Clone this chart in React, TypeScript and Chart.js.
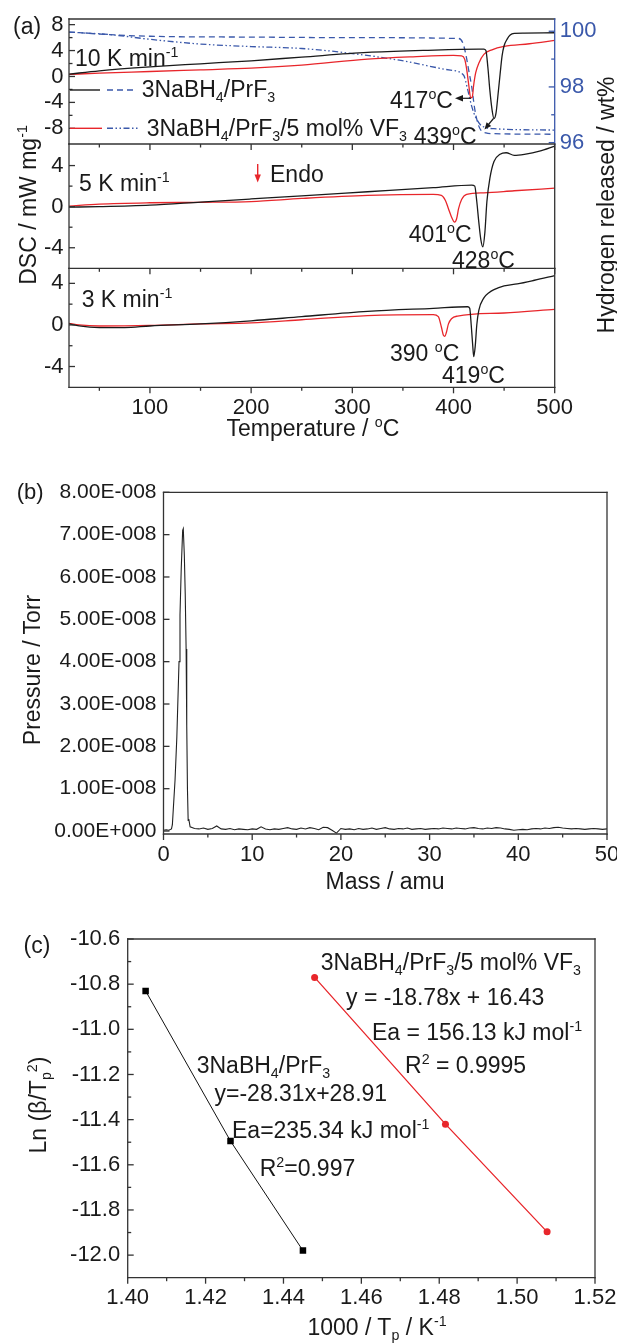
import React, { useEffect, useRef } from "react";
import { Chart, registerables } from "chart.js";
Chart.register(...registerables);

const FONT = "'Liberation Sans', Arial, Helvetica, sans-serif";
const INK = "#1a1a1a";
const AXIS = "#333333";
const RED = "#e8262b";
const BLUE = "#3a58aa";

// ---------------- Panel (a): DSC + hydrogen release ----------------
const tempMajor = [100, 200, 300, 400, 500];
const tempMinor = [50, 150, 250, 350, 450];

// 10 K/min
const t10Black = [20, 50, 100, 150, 200, 250, 315, 370, 425, 430, 432, 434, 436, 438, 440, 442, 444, 446, 448, 450, 453, 456, 460, 470, 500];
const dsc10Black = [0.36, 0.88, 1.49, 1.96, 2.42, 2.99, 3.71, 4.02, 4.22, 4.22, 4.02, 1.34, -2.27, -5.05, -6.49, -5.66, -2.78, 0.31, 3.19, 4.74, 5.77, 6.39, 6.64, 6.7, 6.75];
const t10Red = [20, 50, 100, 150, 200, 250, 315, 360, 400, 408, 411, 413, 415, 417, 418.5, 420, 422, 425, 430, 438, 450, 475, 500];
const dsc10Red = [0.31, 0.52, 0.77, 1.03, 1.29, 1.75, 2.68, 3.04, 3.25, 3.19, 2.68, 1.13, -1.24, -3.3, -3.19, -1.24, 0.62, 2.06, 3.4, 4.12, 4.64, 5.05, 5.56];
const tH2Pure = [20, 60, 100, 200, 300, 405, 409, 412, 415, 418, 421, 424, 427, 432, 440, 500];
const wtPure = [99.97, 99.88, 99.82, 99.79, 99.77, 99.74, 99.6, 99.2, 98.6, 98.0, 97.2, 96.7, 96.45, 96.35, 96.32, 96.3];
const tH2VF3 = [20, 60, 100, 150, 200, 250, 300, 348, 397, 410, 414, 418, 422, 428, 440, 500];
const wtVF3 = [99.97, 99.88, 99.71, 99.54, 99.45, 99.38, 99.2, 98.95, 98.6, 98.42, 97.9, 97.3, 96.9, 96.6, 96.5, 96.45];

// 5 K/min
const t5Black = [20, 50, 100, 150, 200, 250, 315, 380, 418, 421, 423, 425, 427, 429, 431, 433, 436, 440, 446, 452, 460, 470, 485, 500];
const dsc5Black = [-0.05, 0.0, 0.15, 0.45, 0.75, 1.05, 1.45, 1.85, 2.1, 2.0, 0.5, -1.5, -3.2, -3.9, -2.5, 0.5, 2.8, 4.4, 5.1, 5.25, 5.0, 5.1, 5.4, 5.9];
const t5Red = [20, 50, 100, 150, 200, 250, 315, 380, 388, 392, 395, 398, 401, 403, 405, 408, 413, 430, 460, 500];
const dsc5Red = [0.05, 0.25, 0.38, 0.42, 0.5, 0.8, 1.1, 1.2, 1.1, 0.6, -0.2, -1.0, -1.5, -1.2, -0.2, 0.7, 1.2, 1.35, 1.55, 1.8];

// 3 K/min
const t3Black = [20, 30, 50, 75, 100, 150, 200, 250, 315, 380, 414, 416, 417.5, 419, 420, 421.5, 423, 425, 430, 435, 440, 450, 463, 480, 500];
const dsc3Black = [0.1, -0.1, -0.25, -0.25, -0.1, 0.1, 0.4, 0.8, 1.3, 1.6, 1.75, 1.6, 0.0, -2.0, -3.05, -2.0, 0.0, 1.4, 2.6, 3.1, 3.4, 3.75, 3.95, 4.3, 4.75];
const t3Red = [20, 30, 50, 100, 150, 200, 250, 315, 380, 385, 388, 390, 391.5, 393, 395, 398, 404, 450, 500];
const dsc3Red = [0.15, 0.0, -0.1, -0.05, 0.1, 0.2, 0.5, 0.9, 1.0, 0.8, -0.2, -1.0, -1.1, -0.7, 0.1, 0.6, 0.85, 1.15, 1.5];

const dscTicks10 = [-8, -4, 0, 4, 8];
const dscMinor10 = [-6, -2, 2, 6];
const dscTicks = [-4, 0, 4];
const dscMinor = [-2, 2];
const wtTicks = [96, 98, 100];
const wtMinor = [97, 99];

// ---------------- Panel (b): mass spectrum ----------------
const massPeak = [0, 0.3, 0.6, 0.9, 1.0, 1.1, 1.3, 1.5, 1.75, 1.86, 2.0, 2.16, 2.23, 2.35, 2.45, 2.55, 2.62, 2.7, 2.78, 2.85];
const pressPeak = [0.02, 0.03, 0.02, 0.05, 0.15, 0.5, 1.2, 2.2, 4.0, 5.1, 6.2, 7.1, 7.14, 6.5, 5.6, 4.3, 2.5, 1.0, 0.25, 0.28];
const massBase = [3, 3.5, 4, 4.5, 5, 5.5, 6, 6.5, 7, 7.5, 8, 8.5, 9, 9.5, 10, 10.5, 11, 11.5, 12, 12.5, 13, 13.5, 14, 14.5, 15, 15.5, 16, 16.5, 17, 17.5, 18, 18.5, 19, 19.5, 20, 20.5, 21, 21.5, 22, 22.5, 23, 23.5, 24, 24.5, 25, 25.5, 26, 26.5, 27, 27.5, 28, 28.5, 29, 29.5, 30, 30.5, 31, 31.5, 32, 32.5, 33, 33.5, 34, 34.5, 35, 35.5, 36, 36.5, 37, 37.5, 38, 38.5, 39, 39.5, 40, 40.5, 41, 41.5, 42, 42.5, 43, 43.5, 44, 44.5, 45, 45.5, 46, 46.5, 47, 47.5, 48, 48.5, 49, 49.5, 50];
const pressBase = [0.10, 0.06, 0.05, 0.07, 0.04, 0.06, 0.12, 0.05, 0.04, 0.06, 0.03, 0.05, 0.04, 0.03, 0.05, 0.04, 0.10, 0.05, 0.03, 0.05, 0.04, 0.06, 0.08, 0.05, 0.04, 0.07, 0.05, 0.08, 0.06, 0.03, 0.09, 0.08, 0.02, -0.05, 0.06, 0.04, 0.05, 0.03, 0.06, 0.04, 0.05, 0.07, 0.04, 0.06, 0.08, 0.05, 0.04, 0.06, 0.05, 0.07, 0.04, 0.05, 0.06, 0.04, 0.05, 0.06, 0.05, 0.07, 0.06, 0.05, 0.07, 0.06, 0.05, 0.07, 0.08, 0.06, 0.05, 0.07, 0.06, 0.08, 0.07, 0.05, 0.04, 0.02, 0.03, 0.04, 0.03, 0.05, 0.06, 0.05, 0.07, 0.06, 0.08, 0.09, 0.07, 0.06, 0.05, 0.06, 0.05, 0.04, 0.05, 0.06, 0.05, 0.04, 0.05];
const massTicks = [0, 10, 20, 30, 40, 50];
const massMinor = [5, 15, 25, 35, 45];
const pressTicks = [0, 1e-8, 2e-8, 3e-8, 4e-8, 5e-8, 6e-8, 7e-8, 8e-8];
const pressTickLabels = ["0.00E+000", "1.00E-008", "2.00E-008", "3.00E-008", "4.00E-008", "5.00E-008", "6.00E-008", "7.00E-008", "8.00E-008"];

// ---------------- Panel (c): Kissinger plot ----------------
const invTPure = [1.4046, 1.4264, 1.445];
const lnPure = [-10.83, -11.495, -11.98];
const invTVF3 = [1.448, 1.4816, 1.5077];
const lnVF3 = [-10.77, -11.42, -11.897];
const invTTicks = [1.4, 1.42, 1.44, 1.46, 1.48, 1.5, 1.52];
const invTMinor = [1.41, 1.43, 1.45, 1.47, 1.49, 1.51];
const lnTicks = [-12.0, -11.8, -11.6, -11.4, -11.2, -11.0, -10.8, -10.6];
const lnMinor = [-11.9, -11.7, -11.5, -11.3, -11.1, -10.9, -10.7];

// ---------------- helpers ----------------
const pts = (xs: number[], ys: number[], k = 1) => xs.map((x, i) => ({ x, y: ys[i] * k }));

function series(data: any[], color: string, extra: any = {}) {
  return {
    data,
    borderColor: color,
    backgroundColor: color,
    borderWidth: 1.3,
    pointRadius: 0,
    cubicInterpolationMode: "monotone",
    fill: false,
    ...extra,
  };
}

function yAxis(min: number, max: number, ticks: number[], width: number, position: string, opt: any = {}) {
  return {
    type: "linear",
    position,
    min,
    max,
    bounds: "data",
    grid: { display: false, drawTicks: false },
    border: { display: false },
    afterBuildTicks: (s: any) => {
      s.ticks = ticks.map((v) => ({ value: v }));
    },
    ticks: {
      display: opt.show !== false,
      padding: opt.pad ?? 5,
      autoSkip: false,
      font: { family: FONT, size: opt.size ?? 22 },
      color: opt.color ?? INK,
      callback: opt.fmt ?? ((v: number) => String(v)),
    },
    afterFit: (s: any) => {
      s.width = width;
      s.paddingTop = 0;
      s.paddingBottom = 0;
      s.paddingLeft = 0;
      s.paddingRight = 0;
    },
  };
}

function xAxis(min: number, max: number, ticks: number[], height: number, opt: any = {}) {
  return {
    type: "linear",
    position: "bottom",
    min,
    max,
    bounds: "data",
    grid: { display: false, drawTicks: false },
    border: { display: false },
    afterBuildTicks: (s: any) => {
      s.ticks = ticks.map((v) => ({ value: v }));
    },
    ticks: {
      display: opt.show !== false,
      padding: opt.pad ?? 7,
      autoSkip: false,
      maxRotation: 0,
      minRotation: 0,
      font: { family: FONT, size: opt.size ?? 22 },
      color: INK,
      callback: opt.fmt ?? ((v: number) => String(v)),
    },
    afterFit: (s: any) => {
      s.height = height;
      s.paddingTop = 0;
      s.paddingBottom = 0;
      s.paddingLeft = 0;
      s.paddingRight = 0;
    },
  };
}

type TickSpec = { scale: string; side: "left" | "right" | "bottom"; major: number[]; minor: number[]; dir: "in" | "out"; color?: string };

function decor(box: { top?: string; right?: string; bottom?: string; left?: string }, ticks: TickSpec[]) {
  return {
    id: "decor",
    afterDraw(chart: any) {
      const ctx = chart.ctx;
      const a = chart.chartArea;
      ctx.save();
      ctx.lineWidth = 1.3;
      const seg = (x1: number, y1: number, x2: number, y2: number, c: string) => {
        ctx.strokeStyle = c;
        ctx.beginPath();
        ctx.moveTo(x1, y1);
        ctx.lineTo(x2, y2);
        ctx.stroke();
      };
      ticks.forEach((t) => {
        const s = chart.scales[t.scale];
        const col = t.color || AXIS;
        const draw = (v: number, len: number) => {
          const p = s.getPixelForValue(v);
          if (t.side === "bottom") {
            const y0 = a.bottom;
            seg(p, y0, p, t.dir === "out" ? y0 + len : y0 - len, col);
          } else if (t.side === "left") {
            const x0 = a.left;
            seg(x0, p, t.dir === "in" ? x0 + len : x0 - len, p, col);
          } else {
            const x0 = a.right;
            seg(x0, p, t.dir === "in" ? x0 - len : x0 + len, p, col);
          }
        };
        t.major.forEach((v) => draw(v, 6));
        t.minor.forEach((v) => draw(v, 3.5));
      });
      const h = 0.65;
      if (box.top) seg(a.left - h, a.top, a.right + h, a.top, box.top);
      if (box.bottom) seg(a.left - h, a.bottom, a.right + h, a.bottom, box.bottom);
      if (box.left) seg(a.left, a.top - h, a.left, a.bottom + h, box.left);
      if (box.right) seg(a.right, a.top - h, a.right, a.bottom + h, box.right);
      ctx.restore();
    },
  };
}

function makeChart(canvas: HTMLCanvasElement, padTop: number, padRight: number, datasets: any[], scales: any, plugin: any) {
  return new Chart(canvas, {
    type: "line",
    data: { datasets },
    options: {
      responsive: false,
      maintainAspectRatio: false,
      animation: false,
      devicePixelRatio: 1,
      events: [],
      layout: { padding: { top: padTop, right: padRight, left: 0, bottom: 0 } },
      plugins: { legend: { display: false }, tooltip: { enabled: false }, title: { display: false } },
      scales,
      elements: { point: { radius: 0 }, line: { borderWidth: 1.3 } },
    } as any,
    plugins: [plugin],
  } as any);
}

// ---------------- text helpers ----------------
const Sup = ({ children }: any) => (
  <span style={{ fontSize: "0.62em", position: "relative", top: "-0.62em" }}>{children}</span>
);
const Sub = ({ children }: any) => (
  <span style={{ fontSize: "0.62em", position: "relative", top: "0.38em" }}>{children}</span>
);
const Txt = ({ x, y, size = 23, color = INK, center = false, children }: any) => (
  <div
    style={{
      position: "absolute",
      left: x,
      top: y,
      transform: center ? "translate(-50%,-50%)" : "translateY(-50%)",
      fontFamily: FONT,
      fontSize: size,
      lineHeight: 1,
      whiteSpace: "nowrap",
      color,
    }}
  >
    {children}
  </div>
);
const VTxt = ({ x, y, size = 23, color = INK, children }: any) => (
  <div
    style={{
      position: "absolute",
      left: x,
      top: y,
      transform: "translate(-50%,-50%) rotate(-90deg)",
      fontFamily: FONT,
      fontSize: size,
      lineHeight: 1,
      whiteSpace: "nowrap",
      color,
    }}
  >
    {children}
  </div>
);
const Deg = () => <Sup>o</Sup>;

export default function App() {
  const rA1 = useRef<HTMLCanvasElement>(null);
  const rA2 = useRef<HTMLCanvasElement>(null);
  const rA3 = useRef<HTMLCanvasElement>(null);
  const rB = useRef<HTMLCanvasElement>(null);
  const rC = useRef<HTMLCanvasElement>(null);

  useEffect(() => {
    Chart.defaults.font.family = FONT;
    Chart.defaults.color = INK;
    const charts: any[] = [];
    const L = 69;
    const R = 554.7;

    // --- (a) top: 10 K/min ---
    charts.push(
      makeChart(
        rA1.current!,
        19,
        0,
        [
          series(pts(t10Black, dsc10Black), INK),
          series(pts(t10Red, dsc10Red), RED),
          series(pts(tH2Pure, wtPure), BLUE, { yAxisID: "y2", borderDash: [6, 4] }),
          series(pts(tH2VF3, wtVF3), BLUE, { yAxisID: "y2", borderDash: [6, 2.5, 1.5, 2.5, 1.5, 2.5] }),
        ],
        {
          x: xAxis(20, 500, tempMajor, 152 - 144, { show: false }),
          y: yAxis(-10.42, 8.87, dscTicks10, L, "left", { pad: 5.5 }),
          y2: yAxis(95.95, 100.44, wtTicks, 617 - R, "right", { pad: 5, color: BLUE }),
        },
        decor({ top: AXIS, left: AXIS, bottom: AXIS, right: BLUE }, [
          { scale: "x", side: "bottom", major: tempMajor, minor: tempMinor, dir: "out" },
          { scale: "y", side: "left", major: dscTicks10, minor: dscMinor10, dir: "in" },
          { scale: "y2", side: "right", major: wtTicks, minor: wtMinor, dir: "in", color: BLUE },
        ])
      )
    );

    // --- (a) middle: 5 K/min ---
    charts.push(
      makeChart(
        rA2.current!,
        144 - 130,
        617 - R,
        [series(pts(t5Black, dsc5Black), INK), series(pts(t5Red, dsc5Red), RED)],
        {
          x: xAxis(20, 500, tempMajor, 276 - 268.3, { show: false }),
          y: yAxis(-6, 6.1, dscTicks, L, "left", { pad: 5.5 }),
        },
        decor({ left: AXIS, bottom: AXIS, right: AXIS }, [
          { scale: "x", side: "bottom", major: tempMajor, minor: tempMinor, dir: "out" },
          { scale: "y", side: "left", major: dscTicks, minor: dscMinor, dir: "in" },
        ])
      )
    );

    // --- (a) bottom: 3 K/min ---
    charts.push(
      makeChart(
        rA3.current!,
        268.3 - 250,
        617 - R,
        [series(pts(t3Black, dsc3Black), INK), series(pts(t3Red, dsc3Red), RED)],
        {
          x: xAxis(20, 500, tempMajor, 440 - 387.3, { pad: 7 }),
          y: yAxis(-6, 5.45, dscTicks, L, "left", { pad: 5.5 }),
        },
        decor({ left: AXIS, bottom: AXIS, right: AXIS }, [
          { scale: "x", side: "bottom", major: tempMajor, minor: tempMinor, dir: "out" },
          { scale: "y", side: "left", major: dscTicks, minor: dscMinor, dir: "in" },
        ])
      )
    );

    // --- (b) mass spectrum ---
    const specData = [...pts(massPeak, pressPeak, 1e-8), ...pts(massBase, pressBase, 1e-8)];
    charts.push(
      makeChart(
        rB.current!,
        492.3 - 470,
        617 - 607,
        [series(specData, "#222", { cubicInterpolationMode: "default", tension: 0, borderWidth: 1.1 })],
        {
          x: xAxis(0, 50, massTicks, 870 - 834, { pad: 8, size: 22 }),
          y: yAxis(-0.07e-8, 8e-8, pressTicks, 163.5, "left", {
            pad: 7,
            size: 21,
            fmt: (_v: number, i: number) => pressTickLabels[i],
          }),
        },
        decor({ top: AXIS, left: AXIS, bottom: AXIS, right: AXIS }, [
          { scale: "x", side: "bottom", major: massTicks, minor: massMinor, dir: "out" },
          { scale: "y", side: "left", major: pressTicks, minor: [], dir: "in" },
        ])
      )
    );

    // --- (c) Kissinger ---
    charts.push(
      makeChart(
        rC.current!,
        939 - 915,
        617 - 595,
        [
          {
            data: pts(invTPure, lnPure),
            borderColor: "#111",
            backgroundColor: "#111",
            borderWidth: 1,
            pointStyle: "rect",
            pointRadius: 4.6,
            pointBorderWidth: 0,
            pointBackgroundColor: "#000",
            tension: 0,
            fill: false,
          },
          {
            data: pts(invTVF3, lnVF3),
            borderColor: RED,
            backgroundColor: RED,
            borderWidth: 1.3,
            pointStyle: "circle",
            pointRadius: 3.5,
            pointBorderWidth: 0,
            pointBackgroundColor: RED,
            tension: 0,
            fill: false,
          },
        ],
        {
          x: xAxis(1.4, 1.52, invTTicks, 1315 - 1277.7, { pad: 7, fmt: (v: number) => v.toFixed(2) }),
          y: yAxis(-12.1, -10.6, lnTicks, 127.7, "left", { pad: 7.5, fmt: (v: number) => v.toFixed(1) }),
        },
        decor({ top: AXIS, left: AXIS, bottom: AXIS, right: AXIS }, [
          { scale: "x", side: "bottom", major: invTTicks, minor: invTMinor, dir: "out" },
          { scale: "y", side: "left", major: lnTicks, minor: lnMinor, dir: "in" },
        ])
      )
    );

    return () => charts.forEach((c) => c.destroy());
  }, []);

  const cv = (top: number, h: number) => ({ position: "absolute" as const, left: 0, top, width: 617, height: h });

  return (
    <div style={{ position: "absolute", left: 0, top: 0, width: 617, height: 1343, overflow: "hidden", background: "#fff" }}>
      <canvas ref={rA1} width={617} height={152} style={cv(0, 152)} />
      <canvas ref={rA2} width={617} height={146} style={cv(130, 146)} />
      <canvas ref={rA3} width={617} height={190} style={cv(250, 190)} />
      <canvas ref={rB} width={617} height={400} style={cv(470, 400)} />
      <canvas ref={rC} width={617} height={400} style={cv(915, 400)} />

      <svg width={617} height={1343} style={{ position: "absolute", left: 0, top: 0, pointerEvents: "none" }}>
        <line x1={70} y1={90} x2={100} y2={90} stroke={INK} strokeWidth={1.4} />
        <line x1={107} y1={90} x2={134} y2={90} stroke={BLUE} strokeWidth={1.4} strokeDasharray="6 4" />
        <line x1={70} y1={128.3} x2={102} y2={128.3} stroke={RED} strokeWidth={1.4} />
        <line x1={107} y1={128.3} x2={139} y2={128.3} stroke={BLUE} strokeWidth={1.4} strokeDasharray="6 2.5 1.5 2.5 1.5 2.5" />
        <line x1={462} y1={98.3} x2={471} y2={98.3} stroke={INK} strokeWidth={1.2} />
        <polygon points="455,98.3 463,95 463,101.6" fill={INK} />
        <line x1={488.5} y1={124.5} x2={493.5} y2={118.5} stroke={INK} strokeWidth={1.2} />
        <polygon points="484.5,129.5 491.2,126.0 486.6,122.2" fill={INK} />
        <line x1={257.7} y1={164} x2={257.7} y2={176} stroke={RED} strokeWidth={1.4} />
        <polygon points="254.5,174.5 260.9,174.5 257.7,182.5" fill={RED} />
      </svg>

      {/* Panel (a) text */}
      <Txt x={13} y={26}>(a)</Txt>
      <Txt x={75} y={58}>10 K min<Sup>-1</Sup></Txt>
      <Txt x={141.7} y={89}>3NaBH<Sub>4</Sub>/PrF<Sub>3</Sub></Txt>
      <Txt x={146.7} y={127.5}>3NaBH<Sub>4</Sub>/PrF<Sub>3</Sub>/5 mol% VF<Sub>3</Sub></Txt>
      <Txt x={390} y={100}>417<Deg />C</Txt>
      <Txt x={413.7} y={136}>439<Deg />C</Txt>
      <Txt x={79} y={183}>5 K min<Sup>-1</Sup></Txt>
      <Txt x={270} y={174}>Endo</Txt>
      <Txt x={408.7} y={234}>401<Deg />C</Txt>
      <Txt x={452} y={260}>428<Deg />C</Txt>
      <Txt x={81.7} y={299}>3 K min<Sup>-1</Sup></Txt>
      <Txt x={390} y={352.5}>390 <Deg />C</Txt>
      <Txt x={442} y={375}>419<Deg />C</Txt>
      <Txt x={313} y={428} center>Temperature / <Deg />C</Txt>
      <VTxt x={28} y={205}>DSC / mW mg<Sup>-1</Sup></VTxt>
      <VTxt x={606} y={205}>Hydrogen released / wt%</VTxt>

      {/* Panel (b) text */}
      <Txt x={16.7} y={492} size={22}>(b)</Txt>
      <VTxt x={31.5} y={670}>Pressure / Torr</VTxt>
      <Txt x={385} y={881} center>Mass / amu</Txt>

      {/* Panel (c) text */}
      <Txt x={23.6} y={945}>(c)</Txt>
      <VTxt x={38.3} y={1105}>Ln (β/T<Sub>p</Sub><Sup>2</Sup>)</VTxt>
      <Txt x={377} y={1327} center>1000 / T<Sub>p</Sub> / K<Sup>-1</Sup></Txt>
      <Txt x={320.7} y={961.7}>3NaBH<Sub>4</Sub>/PrF<Sub>3</Sub>/5 mol% VF<Sub>3</Sub></Txt>
      <Txt x={346} y={996.7}>y = -18.78x + 16.43</Txt>
      <Txt x={371.9} y={1031.7}>Ea = 156.13 kJ mol<Sup>-1</Sup></Txt>
      <Txt x={405} y={1065}>R<Sup>2</Sup> = 0.9995</Txt>
      <Txt x={196.7} y={1065}>3NaBH<Sub>4</Sub>/PrF<Sub>3</Sub></Txt>
      <Txt x={214.5} y={1093}>y=-28.31x+28.91</Txt>
      <Txt x={232} y={1130}>Ea=235.34 kJ mol<Sup>-1</Sup></Txt>
      <Txt x={259.7} y={1168}>R<Sup>2</Sup>=0.997</Txt>
    </div>
  );
}
